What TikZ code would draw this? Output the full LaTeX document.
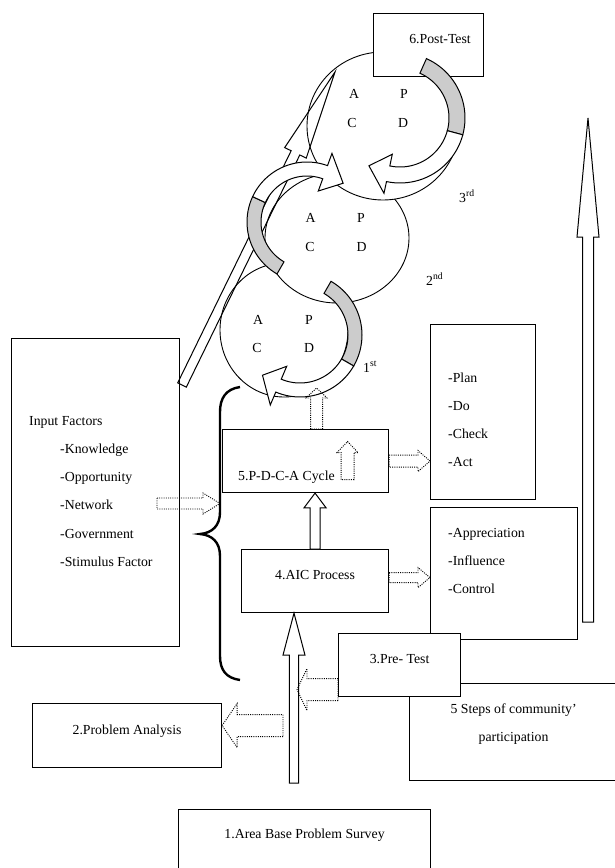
\documentclass[tikz,border=0pt]{standalone}
\usepackage{fontspec}
\setmainfont{Liberation Serif}
\usetikzlibrary{shapes.geometric, positioning, calc}

% fat arrow: [style]{tail}{tip}{shaft half width}{head half width}{head length}
\newcommand{\blockarrow}[6][]{%
  \coordinate (ba) at ($(#3)!#6!(#2)$);
  \draw[#1] ($(#2)!#4!90:(#3)$) -- ($(ba)!#4!-90:(#2)$) -- ($(ba)!#5!-90:(#2)$)
    -- (#3) -- ($(ba)!#5!90:(#2)$) -- ($(ba)!#4!90:(#2)$)
    -- ($(#2)!#4!-90:(#3)$) -- cycle;%
}
% bent arrow round a cycle: {cx}{cy}{radius}{start}{grey end}{head base}{head tip}{head half}{band half}
\newcommand{\cyclearrow}[9]{%
  \filldraw[turnband] plot[domain=#4:#5, variable=\t]
    ({#1+(#3+#9)*cos(\t)}, {#2+(#3+#9)*sin(\t)})
    -- plot[domain=#5:#4, variable=\t] ({#1+(#3-#9)*cos(\t)}, {#2+(#3-#9)*sin(\t)}) -- cycle;
  \filldraw[turnband, fill=white] plot[domain=#5:#6, variable=\t]
    ({#1+(#3+#9)*cos(\t)}, {#2+(#3+#9)*sin(\t)})
    -- ({#1+(#3+#8)*cos(#6)}, {#2+(#3+#8)*sin(#6)})
    -- ({#1+#3*cos(#7)}, {#2+#3*sin(#7)})
    -- ({#1+(#3-#8)*cos(#6)}, {#2+(#3-#8)*sin(#6)})
    -- plot[domain=#6:#5, variable=\t] ({#1+(#3-#9)*cos(\t)}, {#2+(#3-#9)*sin(\t)})
    -- cycle;%
}

\begin{document}
\begin{tikzpicture}[x=1pt, y=-1pt,
    box/.style={draw, line width=1.1pt, fill=white, anchor=north west, inner sep=0pt},
    word/.style={inner sep=0pt, font=\fontsize{13.8}{16}\selectfont},
    ring/.style={draw, ellipse, line width=0.9pt, fill=white, inner sep=0pt},
    solidarrow/.style={draw, line width=1pt, fill=white},
    dotarrow/.style={draw, line width=0.9pt, dash pattern=on 1pt off 1.2pt},
    turnband/.style={draw, line width=1pt, fill=gray!40}]
    \useasboundingbox (0,0) rectangle (614,868);

    % 5 Steps of community' participation
    \node [box, minimum width=208pt, minimum height=97pt] (Steps) at (409,683) {};%
    \node [word, anchor=base] (StepsA) at ([yshift=-30pt]Steps.north)
    {5 Steps of community’};%
    \node [word, anchor=base] (StepsB) at ([yshift=-28.3pt]StepsA.base)
    {participation};%

    % tall arrow on the right
    \coordinate (UpFrom) at (588,622);%
    \coordinate (UpTo) at (588,118);%
    \blockarrow[solidarrow]{UpFrom}{UpTo}{5.5pt}{11pt}{119pt}

    % Plan - Do - Check - Act
    \node [box, minimum width=105pt, minimum height=175pt] (Plan) at (430,324) {};%
    \node [word, anchor=base west] (PlanA) at ([xshift=18pt, yshift=-58pt]Plan.north west)
    {-Plan};%
    \node [word, anchor=base west] (PlanB) at ([yshift=-28.3pt]PlanA.base west) {-Do};%
    \node [word, anchor=base west] (PlanC) at ([yshift=-28.3pt]PlanB.base west) {-Check};%
    \node [word, anchor=base west] (PlanD) at ([yshift=-28.3pt]PlanC.base west) {-Act};%

    % Appreciation - Influence - Control
    \node [box, minimum width=147pt, minimum height=132pt] (Appr) at (430,507) {};%
    \node [word, anchor=base west] (ApprA) at ([xshift=18pt, yshift=-30pt]Appr.north west)
    {-Appreciation};%
    \node [word, anchor=base west] (ApprB) at ([yshift=-28.3pt]ApprA.base west) {-Influence};%
    \node [word, anchor=base west] (ApprC) at ([yshift=-28.3pt]ApprB.base west) {-Control};%

    % Pre-Test
    \node [box, minimum width=122pt, minimum height=63pt] (PreTest) at (338,633) {};%
    \node [word, anchor=base] (PreTestText) at ([yshift=-30pt]PreTest.north) {3.Pre- Test};%

    % Input Factors
    \node [box, minimum width=168pt, minimum height=308pt] (Input) at (11,338) {};%
    \node [word, anchor=base west] (InTitle) at ([xshift=18pt, yshift=-87pt]Input.north west)
    {Input Factors};%
    \node [word, anchor=base west] (Know) at ([xshift=31pt, yshift=-28.3pt]InTitle.base west)
    {-Knowledge};%
    \node [word, anchor=base west] (Oppo) at ([yshift=-28.3pt]Know.base west) {-Opportunity};%
    \node [word, anchor=base west] (Netw) at ([yshift=-28.3pt]Oppo.base west) {-Network};%
    \node [word, anchor=base west] (Gove) at ([yshift=-28.3pt]Netw.base west) {-Government};%
    \node [word, anchor=base west] (Stim) at ([yshift=-28.3pt]Gove.base west)
    {-Stimulus Factor};%

    % P-D-C-A Cycle and AIC Process
    \node [box, minimum width=166pt, minimum height=63pt] (PDCA) at (222,429) {};%
    \node [word, anchor=base west] (PDCAText) at ([xshift=16pt, yshift=-19.5pt]PDCA.west)
    {5.P-D-C-A Cycle};%
    \node [box, minimum width=147pt, minimum height=63pt] (AIC) at (241,549) {};%
    \node [word, anchor=base] (AICText) at ([yshift=-30pt]AIC.north) {4.AIC Process};%

    % Problem Analysis and Survey
    \node [box, minimum width=189pt, minimum height=64pt] (Problem) at (32,703) {};%
    \node [word, anchor=base] (ProblemText) at ([yshift=-31pt]Problem.north)
    {2.Problem Analysis};%
    \node [box, minimum width=252pt, minimum height=66pt] (Survey) at (178,809) {};%
    \node [word, anchor=base] (SurveyText) at ([yshift=-29pt]Survey.north)
    {1.Area Base Problem Survey};%

    % cycles
    \node [ring, minimum width=128pt, minimum height=134pt] (Cyc1) at (284,330) {};%
    \node [ring, minimum width=144pt, minimum height=130pt] (Cyc2) at (337,238) {};%
    \node [ring, minimum width=152pt, minimum height=148pt] (Cyc3) at (383,126) {};%
    \node [word] (A1) at (258,320) {A};%
    \node [word] (P1) at (309,320) {P};%
    \node [word] (C1) at (257,348) {C};%
    \node [word] (D1) at (309,348) {D};%
    \node [word] (A2) at (310.5,218) {A};%
    \node [word] (P2) at (361,218) {P};%
    \node [word] (C2) at (310,246.5) {C};%
    \node [word] (D2) at (361.5,246.5) {D};%
    \node [word] (A3) at (354,94) {A};%
    \node [word] (P3) at (404,94) {P};%
    \node [word] (C3) at (352,123) {C};%
    \node [word] (D3) at (403,123) {D};%
    \node [word, anchor=base west] (First) at (363,372) {1\textsuperscript{st}};%
    \node [word, anchor=base west] (Second) at (426,285) {2\textsuperscript{nd}};%
    \node [word, anchor=base west] (Third) at (459,202) {3\textsuperscript{rd}};%

    % Post-Test
    \node [box, minimum width=110pt, minimum height=63pt] (Post) at (373,13) {};%
    \node [word, anchor=base] (PostText) at ([xshift=11.5pt, yshift=-30pt]Post.north)
    {6.Post-Test};%

    % long slanted arrow
    \coordinate (DiagFrom) at (182,385);%
    \coordinate (DiagTo) at (335,72);%
    \blockarrow[draw, line width=1pt]{DiagFrom}{DiagTo}{4.8pt}{12pt}{90pt}

    % turning arrows
    \cyclearrow{307}{222}{53}{120}{205}{290}{313}{20}{7}
    \cyclearrow{300}{335}{55}{-60}{30}{113}{133}{21}{7}
    \cyclearrow{400}{118}{57}{-66}{15}{102}{123}{20}{8}

    % brace
    \draw [line width=2.4pt] (240,387) .. controls (226,389) and (220,398) .. (220,412)
    -- (220,512) .. controls (220,526) and (212,533) .. (200,534)
    .. controls (212,535) and (220,542) .. (220,556) -- (220,656)
    .. controls (220,670) and (226,678) .. (240,680);%
    \coordinate (Brace) at (220,503.5);%

    % arrows
    \coordinate (NetOut) at (157,503.5);%
    \blockarrow[dotarrow]{NetOut}{Brace}{5.5pt}{10.5pt}{17pt}
    \blockarrow[dotarrow]{PDCA.east}{PDCA.east -| Plan.west}{6pt}{10.5pt}{12pt}
    \coordinate (AICout) at ([yshift=3.5pt]AIC.east);%
    \blockarrow[dotarrow]{AICout}{AICout -| Appr.west}{5pt}{10pt}{12pt}
    \blockarrow[solidarrow]{AIC.north}{AIC.north |- PDCA.south}{5pt}{11pt}{14.7pt}
    \coordinate (Rise) at (294,783);%
    \coordinate (RiseTop) at (Rise |- AIC.south);%
    \blockarrow[solidarrow]{Rise}{RiseTop}{4.7pt}{11pt}{42pt}
    \coordinate (PreOut) at ([yshift=-24.5pt]PreTest.west);%
    \coordinate (PreIn) at ($(PreOut -| Rise)+(3,0)$);%
    \blockarrow[dotarrow]{PreOut}{PreIn}{11pt}{21pt}{10pt}
    \coordinate (ProbIn) at ([yshift=10pt]Problem.east);%
    \coordinate (ProbOut) at ($(ProbIn -| Rise)+(-11,0)$);%
    \blockarrow[dotarrow]{ProbOut}{ProbIn}{11pt}{22pt}{15pt}
    \coordinate (PDCAtop) at ([xshift=11pt]PDCA.north);%
    \coordinate (PDCAup) at ($(PDCAtop)+(0,-41)$);%
    \blockarrow[dotarrow]{PDCAtop}{PDCAup}{6pt}{10.5pt}{10pt}
    \coordinate (SmallFrom) at ($(PDCA.center)+(42,18.5)$);%
    \coordinate (SmallTo) at ($(PDCA.center)+(42,-19.5)$);%
    \blockarrow[dotarrow]{SmallFrom}{SmallTo}{6.5pt}{10.5pt}{11pt}
  \end{tikzpicture}
\end{document}
